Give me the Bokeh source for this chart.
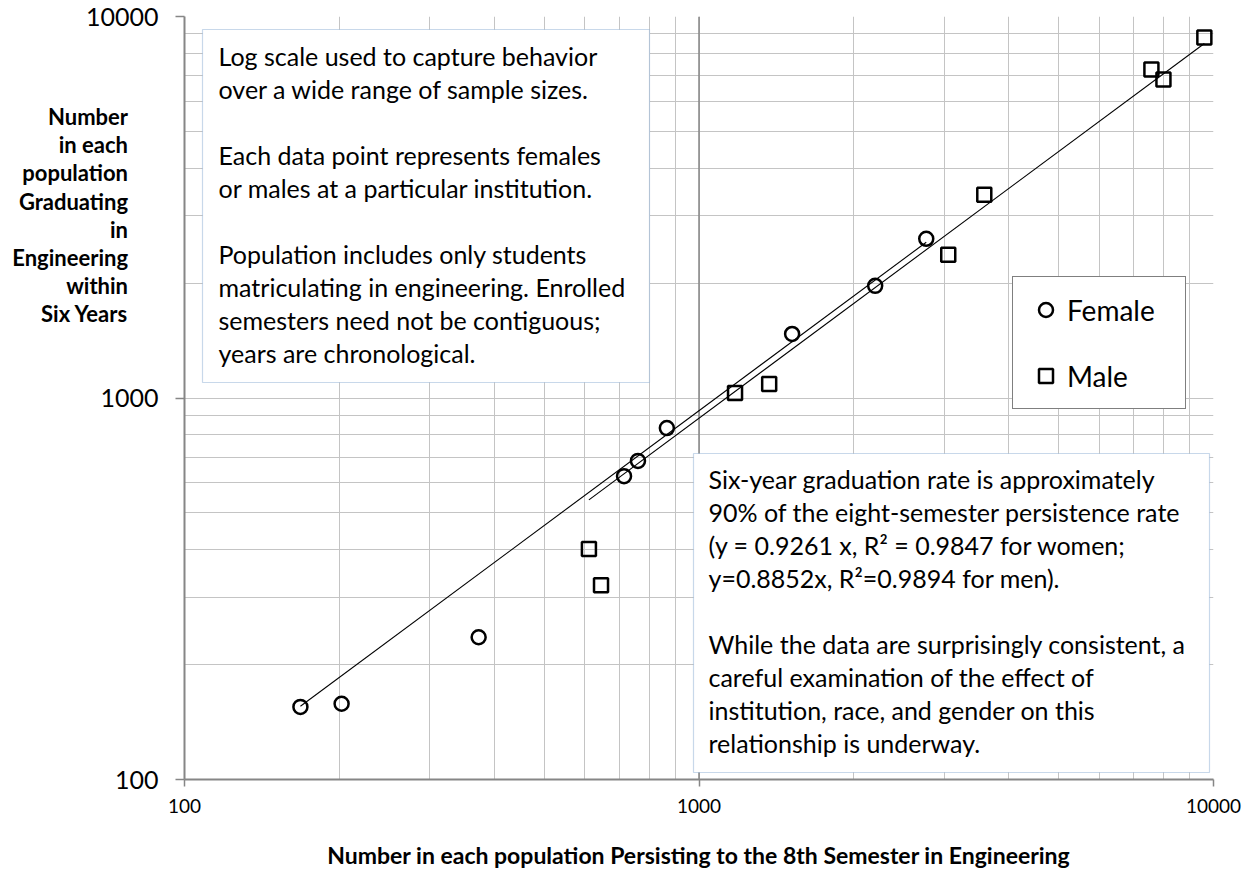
from bokeh.plotting import figure
from bokeh.models import (FixedTicker, BoxAnnotation, Label, Legend, LegendItem,
                          NumeralTickFormatter, Span)
from bokeh.embed import file_html
from bokeh.resources import INLINE

# ---------------- data ----------------
female_x = [168, 202, 373, 715, 761, 866, 1517, 2200, 2765]
female_y = [155, 158, 236, 624, 684, 834, 1472, 1968, 2614]
male_x = [611, 645, 1175, 1369, 3051, 3585, 7574, 7993, 9599]
male_y = [402, 323, 1031, 1088, 2373, 3410, 7260, 6834, 8810]
female_slope = 0.9261
male_slope = 0.8852
major_ticks = [100, 1000, 10000]
tick_labels = ["100", "1000", "10000"]
minor_ticks = [200, 300, 400, 500, 600, 700, 800, 900,
               2000, 3000, 4000, 5000, 6000, 7000, 8000, 9000]

x_title = "Number in each population Persisting to the 8th Semester in Engineering"
y_title = ["Number", "in each", "population", "Graduating", "in",
           "Engineering", "within", "Six Years"]
box1_lines = ["Log scale used to capture behavior",
              "over a wide range of sample sizes.",
              "",
              "Each data point represents females",
              "or males at a particular institution.",
              "",
              "Population includes only students",
              "matriculating in engineering. Enrolled",
              "semesters need not be contiguous;",
              "years are chronological."]
box2_lines = ["Six-year graduation rate is approximately",
              "90% of the eight-semester persistence rate",
              "(y = 0.9261 x, R\u00b2 = 0.9847 for women;",
              "y=0.8852x, R\u00b2=0.9894 for men).",
              "",
              "While the data are surprisingly consistent, a",
              "careful examination of the effect of",
              "institution, race, and gender on this",
              "relationship is underway."]

# ---------------- layout helpers (page pixels -> data) ----------------
W, H = 1250, 871
FL, FT, FW, FH = 184, 16, 1029, 763
def xd(px):
    return 10 ** (2 + 2 * (px - FL) / FW)
def yd(py):
    return 10 ** (4 - 2 * (py - FT) / FH)

FONT = "Lato"
GRID = "#c4c4c4"
AXIS = "#868686"

p = figure(width=W, height=H, x_axis_type="log", y_axis_type="log",
           x_range=(100, 10000), y_range=(100, 10000),
           output_backend="svg", toolbar_location=None,
           min_border_left=FL, min_border_right=W - FL - FW,
           min_border_top=FT, min_border_bottom=H - FT - FH)
p.outline_line_color = None
p.background_fill_color = "white"
p.border_fill_color = "white"

ticker = FixedTicker(ticks=major_ticks, minor_ticks=minor_ticks)
for ax in (p.xaxis[0], p.yaxis[0]):
    ax.ticker = ticker
    ax.formatter = NumeralTickFormatter(format="0")
    ax.major_label_overrides = {t: l for t, l in zip(major_ticks, tick_labels)}
    ax.axis_line_color = AXIS
    ax.axis_line_width = 2
    ax.major_tick_line_color = AXIS
    ax.major_tick_line_width = 1.5
    ax.major_tick_in = 0
    ax.minor_tick_line_color = None
    ax.major_label_text_font = FONT
    ax.major_label_text_color = "black"
    ax.axis_label_text_font = FONT
    ax.axis_label_text_font_style = "bold"
    ax.axis_label_text_color = "black"
p.xaxis.major_tick_out = 7
p.yaxis.major_tick_out = 9
p.xaxis.major_label_text_font_size = "19px"
p.yaxis.major_label_text_font_size = "25px"
p.xaxis.major_label_standoff = 12
p.yaxis.major_label_standoff = 17

# x title as the axis label
p.xaxis.axis_label = x_title
p.xaxis.axis_label_text_font_size = "23px"
p.xaxis.axis_label_standoff = 25

# y title: horizontal multi-line axis label, lifted towards the top with trailing blank lines
p.yaxis.axis_label = "\n".join(y_title + [""] * 13)
p.yaxis.axis_label_orientation = "horizontal"
p.yaxis.axis_label_text_font_size = "22px"
p.yaxis.axis_label_text_line_height = 1.042
p.yaxis.axis_label_standoff = -45

for g in (p.xgrid[0], p.ygrid[0]):
    g.ticker = ticker
    g.grid_line_color = GRID
    g.grid_line_width = 1
    g.minor_grid_line_color = GRID
    g.minor_grid_line_width = 1

# darker vertical line at the middle decade
p.add_layout(Span(location=major_ticks[1], dimension="height", line_color=AXIS,
                  line_width=1.5, level="underlay"))

# ---------------- marks ----------------
fr = p.scatter(female_x, female_y, marker="circle", size=14, fill_color=None,
               line_color="black", line_width=2.5)
mr = p.scatter(male_x, male_y, marker="square", size=14, fill_color=None,
               line_color="black", line_width=2.5)

fx = [min(female_x), max(female_x)]
mx = [min(male_x), max(male_x)]
p.line(fx, [female_slope * v for v in fx], line_color="black", line_width=1.1)
p.line(mx, [male_slope * v for v in mx], line_color="black", line_width=1.1)

# ---------------- legend ----------------
legend = Legend(items=[LegendItem(label="Female", renderers=[fr]),
                       LegendItem(label="Male", renderers=[mr])],
                location=(1012 - FL, (FT + FH) - 409),
                border_line_color="black", border_line_width=1,
                background_fill_color="white", background_fill_alpha=1,
                glyph_width=35, glyph_height=35, label_standoff=4,
                label_width=103, label_height=35, spacing=31, padding=15,
                margin=0, label_text_font=FONT, label_text_font_size="28px",
                label_text_color="black")
p.add_layout(legend)

# ---------------- text boxes ----------------
def text_box(left, right, top, bottom, lines, tx, ty0, dy, size):
    p.add_layout(BoxAnnotation(left=xd(left), right=xd(right), top=yd(top), bottom=yd(bottom),
                               fill_color="white", fill_alpha=1,
                               line_color="#4a7ebb", line_width=1.2))
    for i, t in enumerate(lines):
        if t:
            p.add_layout(Label(x=xd(tx), y=yd(ty0 + i * dy), text=t, text_align="left",
                               text_baseline="middle", text_font=FONT,
                               text_font_size=size, text_color="black"))

text_box(202, 649, 29, 382, box1_lines, 218, 55, 33, "25px")
text_box(693, 1209, 453, 772, box2_lines, 708, 478, 33, "25px")

open("out.html", "w").write(file_html(p, INLINE))
